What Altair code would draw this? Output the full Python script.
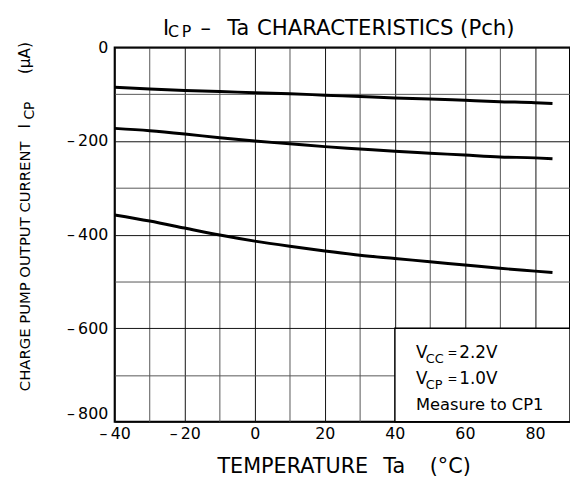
import altair as alt
import pandas as pd

# ---- data ----
temps = [-40, -30, -20, -10, 0, 10, 20, 30, 40, 50, 60, 70, 80, 85]
icp_top = [-85, -89, -92, -94, -97, -99, -102, -105, -108, -110, -113, -116, -118, -120]
icp_mid = [-173, -178, -185, -193, -200, -206, -212, -217, -222, -226, -230, -234, -236, -238]
icp_bot = [-358, -371, -386, -401, -414, -425, -435, -444, -451, -458, -465, -472, -478, -481]

x_grid = list(range(-40, 91, 10))
y_grid = list(range(-800, 1, 100))
x_domain = [-40, 90]
y_domain = [-800, 0]

box_x = [40, 90]
box_y = [-800, -600]

FONT = "DejaVu Sans"

rows = []
for name, vals in [("top", icp_top), ("mid", icp_mid), ("bot", icp_bot)]:
    for t, v in zip(temps, vals):
        rows.append({"series": name, "Ta": t, "Icp": v})
df = pd.DataFrame(rows)

xscale = alt.Scale(domain=x_domain, nice=False, zero=False)
yscale = alt.Scale(domain=y_domain, nice=False, zero=False)

NEG = "'\u2013\u2009'"

x_axis = alt.Axis(
    values=x_grid, grid=True, ticks=False, domain=False, title=None,
    labelExpr="datum.value % 20 === 0 && datum.value < 90 ? (datum.value < 0 ? " + NEG + " + abs(datum.value) : '' + datum.value) : ''",
    labelFont=FONT, labelFontSize=16, labelColor="black", labelFlush=False,
    labelPadding=4,
    gridColor={"condition": {"test": "datum.value % 20 === 0", "value": "#111"}, "value": "#555"},
    gridWidth=1,
)
y_axis = alt.Axis(
    values=y_grid, grid=True, ticks=False, domain=False, title=None,
    labelExpr="datum.value % 200 === 0 ? (datum.value === 0 ? '0' : " + NEG + " + abs(datum.value)) : ''",
    labelFont=FONT, labelFontSize=16, labelColor="black", labelFlush=False,
    labelPadding=7,
    labelBaseline={"condition": {"test": "datum.value === -800", "value": "bottom"}, "value": "middle"},
    gridColor={"condition": {"test": "datum.value % 200 === 0", "value": "#111"}, "value": "#555"},
    gridWidth=1,
)

lines = alt.Chart(df).mark_line(color="black", strokeWidth=3, interpolate="monotone").encode(
    x=alt.X("Ta:Q", scale=xscale, axis=x_axis),
    y=alt.Y("Icp:Q", scale=yscale, axis=y_axis),
    detail="series:N",
)

box = alt.Chart(pd.DataFrame({"x0": [box_x[0]], "x1": [box_x[1]], "y0": [box_y[0]], "y1": [box_y[1]]})).mark_rect(
    fill="white", stroke="black", strokeWidth=1.5
).encode(
    x=alt.X("x0:Q", scale=xscale, axis=x_axis), x2="x1:Q",
    y=alt.Y("y0:Q", scale=yscale, axis=y_axis), y2="y1:Q",
)

one = pd.DataFrame({"a": [0]})

def txt_data(text, xv, yv, size, dx=0, dy=0):
    return alt.Chart(one).mark_text(
        text=text, align="left", baseline="alphabetic", font=FONT, fontSize=size,
        color="black", dx=dx, dy=dy,
    ).encode(
        x=alt.X("xv:Q", scale=xscale, axis=x_axis),
        y=alt.Y("yv:Q", scale=yscale, axis=y_axis),
    ).transform_calculate(xv=str(xv), yv=str(yv))

def txt_px(text, px, py, size, angle=0):
    return alt.Chart(one).mark_text(
        text=text, align="left", baseline="alphabetic", font=FONT, fontSize=size,
        color="black", angle=angle,
    ).encode(x=alt.value(px), y=alt.value(py))

inset_x = 46
inset = [
    txt_data("V", inset_x, -663, 17),
    txt_data("CC", inset_x, -663, 13, dx=10, dy=5),
    txt_data("=", inset_x, -663, 12, dx=32, dy=-1),
    txt_data("2.2V", inset_x, -663, 17, dx=44),
    txt_data("V", inset_x, -720, 17),
    txt_data("CP", inset_x, -720, 13, dx=10, dy=5),
    txt_data("=", inset_x, -720, 12, dx=32, dy=-1),
    txt_data("1.0V", inset_x, -720, 17, dx=44),
    txt_data("Measure to CP1", inset_x, -775, 16.5),
]

title = [
    txt_px("I", 49, -13, 21),
    txt_px("C", 54, -11, 16),
    txt_px("P", 68, -11, 16),
    txt_px("\u2013", 87, -13, 21),
    txt_px("Ta", 114, -13, 21),
    txt_px("CHARACTERISTICS (Pch)", 144, -13, 21.5),
]

ytitle = [
    txt_px("CHARGE PUMP OUTPUT CURRENT", -85.5, 348, 15, angle=270),
    txt_px("I", -85.5, 82, 15.5, angle=270),
    txt_px("CP", -82, 73, 14, angle=270),
    txt_px("(\u03bcA)", -85.5, 27, 15.5, angle=270),
]

xtitle = [
    txt_px("TEMPERATURE", 104, 431, 21),
    txt_px("Ta", 272, 431, 21),
    txt_px("(\u00b0C)", 319, 431, 21),
]

chart = alt.layer(lines, box, *inset, *title, *ytitle, *xtitle).properties(
    width=461, height=379,
    autosize=alt.AutoSizeParams(type="none"),
    padding={"left": 108, "top": 37, "right": 0, "bottom": 55},
).configure(font=FONT).configure_view(stroke="black", strokeWidth=2)

chart.save("out.html", embed_options={"renderer": "svg", "actions": False})
